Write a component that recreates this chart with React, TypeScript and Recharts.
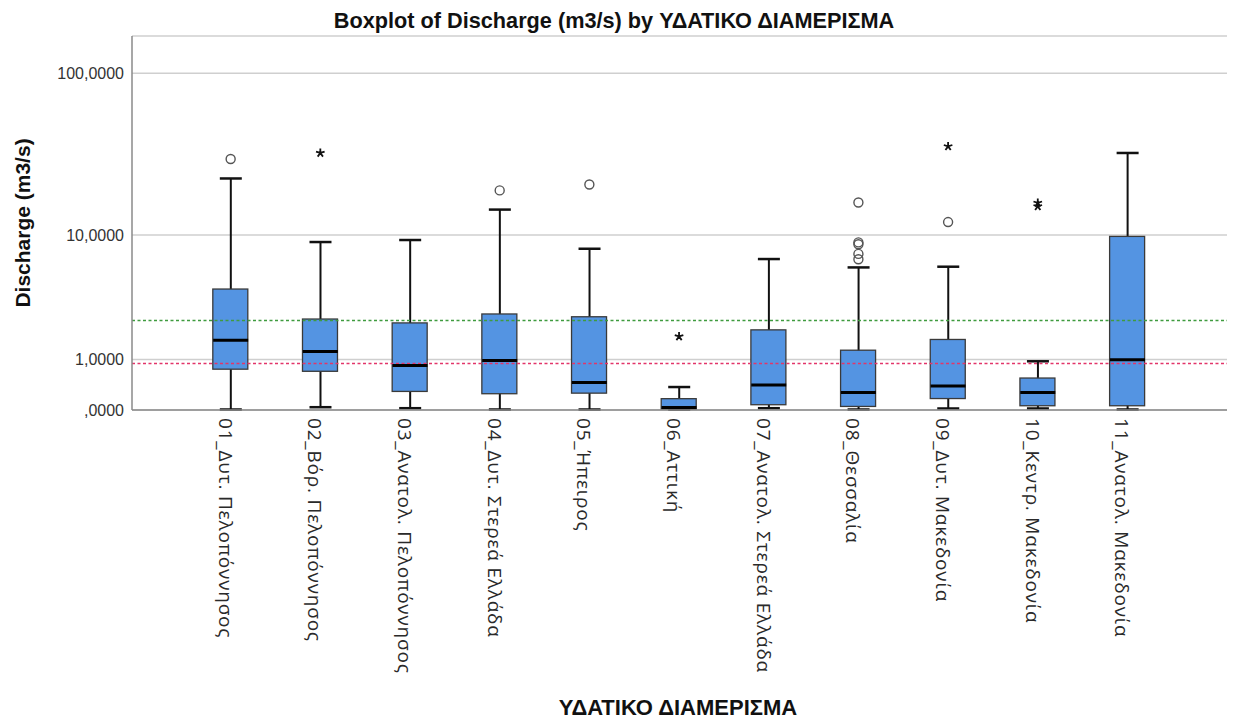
import React from "react";
import {
  ComposedChart,
  Bar,
  Scatter,
  XAxis,
  YAxis,
  CartesianGrid,
  ReferenceLine,
} from "recharts";

const regions = [
  "01_Δυτ. Πελοπόννησος",
  "02_Βόρ. Πελοπόννησος",
  "03_Ανατολ. Πελοπόννησος",
  "04_Δυτ. Στερεά Ελλάδα",
  "05_Ήπειρος",
  "06_Αττική",
  "07_Ανατολ. Στερεά Ελλάδα",
  "08_Θεσσαλία",
  "09_Δυτ. Μακεδονία",
  "10_Κεντρ. Μακεδονία",
  "11_Ανατολ. Μακεδονία",
];

// five-number summaries per region (m3/s)
const whiskerLow = [0, 0.032, 0.018, 0, 0, 0, 0.018, 0, 0.014, 0.014, 0];
const q1 = [0.75, 0.7, 0.29, 0.25, 0.26, 0.014, 0.075, 0.05, 0.17, 0.06, 0.06];
const median = [1.6, 1.23, 0.84, 0.97, 0.46, 0.036, 0.41, 0.27, 0.39, 0.27, 0.99];
const q3 = [4.25, 2.48, 2.3, 2.73, 2.59, 0.168, 2.0, 1.27, 1.63, 0.55, 9.8];
const whiskerHigh = [22.9, 9.0, 9.28, 14.6, 8.12, 0.37, 6.92, 6.06, 6.13, 0.95, 32.9];

// outliers (o) and extreme values (*), keyed by region index
const outlierRegion = [0, 3, 4, 7, 7, 7, 7, 7, 8];
const outlierValue = [30.2, 19.3, 21.0, 16.2, 8.95, 8.7, 7.5, 6.9, 12.15];
const extremeRegion = [1, 5, 8, 9, 9];
const extremeValue = [32.9, 1.74, 36.1, 16.1, 15.3];

// overall reference levels
const upperRef = 2.41;
const lowerRef = 0.89;

const yTicks = [0, 1, 10, 100];
const xTicks = regions.map((_, i) => i);

const rows = regions.map((name, i) => ({
  idx: i,
  name,
  lo: whiskerLow[i],
  q1: q1[i],
  med: median[i],
  q3: q3[i],
  hi: whiskerHigh[i],
}));
const outliers = outlierRegion.map((r, i) => ({ idx: r, value: outlierValue[i] }));
const extremes = extremeRegion.map((r, i) => ({ idx: r, value: extremeValue[i] }));

const ARIAL = "Arial, 'Liberation Sans', sans-serif";
const LABEL_FONT = "'Open Sans', 'Noto Sans', sans-serif";
const BOX_W = 35;
const CAP_W = 22;
const X_DOMAIN: [number, number] = [-1.1, 11.11];

const fmtTick = (v: number) => (v === 0 ? ",0000" : v.toFixed(4).replace(".", ","));

const WhiskerShape = (props: any) => {
  const { x, y, width, height } = props;
  const top = Math.min(y, y + height);
  const bottom = Math.max(y, y + height);
  const cx = x + width / 2;
  return (
    <g>
      <line x1={cx} x2={cx} y1={top} y2={bottom} stroke="#111" strokeWidth={2} />
      <line x1={x} x2={x + width} y1={top} y2={top} stroke="#111" strokeWidth={2.5} />
      <line x1={x} x2={x + width} y1={bottom - 0.5} y2={bottom - 0.5} stroke="#111" strokeWidth={2.5} />
    </g>
  );
};

const BoxShape = (props: any) => {
  const { x, y, width, height } = props;
  const top = Math.min(y, y + height);
  return (
    <rect
      x={x}
      y={top}
      width={width}
      height={Math.abs(height)}
      fill="#5494e2"
      stroke="#3a3a3a"
      strokeWidth={1.3}
    />
  );
};

const MedianShape = (props: any) => {
  const { cx, cy } = props;
  return (
    <line
      x1={cx - BOX_W / 2}
      x2={cx + BOX_W / 2}
      y1={cy}
      y2={cy}
      stroke="#000"
      strokeWidth={3}
    />
  );
};

const CircleShape = (props: any) => (
  <circle cx={props.cx} cy={props.cy} r={4.5} fill="none" stroke="#555" strokeWidth={1.4} />
);

const StarShape = (props: any) => {
  const { cx, cy } = props;
  const arms = [0, 1, 2, 3, 4].map((k) => {
    const a = ((-90 + 72 * k) * Math.PI) / 180;
    return `M${cx},${cy}L${cx + 4.5 * Math.cos(a)},${cy + 4.5 * Math.sin(a)}`;
  });
  return <path d={arms.join("")} stroke="#111" strokeWidth={1.8} fill="none" />;
};

const RegionTick = (props: any) => {
  const { x, y, payload } = props;
  return (
    <text
      transform={`translate(${x - 12},${y}) rotate(90)`}
      textAnchor="start"
      fontFamily={LABEL_FONT}
      fontWeight={400}
      fontSize={19}
      letterSpacing={0.8}
      fill="#2a2a2a"
    >
      {regions[payload.value]}
    </text>
  );
};

const yTitle = () => (
  <text
    x={22}
    y={223}
    transform="rotate(-90, 22, 223)"
    textAnchor="middle"
    dominantBaseline="central"
    fontFamily={ARIAL}
    fontWeight="bold"
    fontSize={21}
    fill="#111"
  >
    Discharge (m3/s)
  </text>
);

const xTitle = () => (
  <text
    x={678}
    y={707}
    textAnchor="middle"
    dominantBaseline="central"
    fontFamily={ARIAL}
    fontWeight="bold"
    fontSize={22}
    fill="#111"
  >
    ΥΔΑΤΙΚΟ ΔΙΑΜΕΡΙΣΜΑ
  </text>
);

export default function App() {
  return (
    <div style={{ position: "absolute", left: 0, top: 0, background: "#fff" }}>
      <ComposedChart
        width={1237}
        height={720}
        data={rows}
        margin={{ top: 36, right: 10, bottom: 0, left: 0 }}
      >
        <text
          x={614}
          y={20}
          textAnchor="middle"
          dominantBaseline="central"
          fontFamily={ARIAL}
          fontWeight="bold"
          fontSize={21.7}
          fill="#111"
        >
          Boxplot of Discharge (m3/s) by ΥΔΑΤΙΚΟ ΔΙΑΜΕΡΙΣΜΑ
        </text>
        <CartesianGrid horizontal vertical={false} stroke="#cfcfcf" strokeWidth={1.5} />
        <XAxis
          dataKey="idx"
          type="number"
          domain={X_DOMAIN}
          ticks={xTicks}
          interval={0}
          tick={<RegionTick />}
          tickLine={false}
          axisLine={{ stroke: "#8a8a8a", strokeWidth: 1.5 }}
          height={310}
          label={xTitle}
        />
        <XAxis xAxisId="w" dataKey="idx" type="number" domain={X_DOMAIN} hide />
        <YAxis
          type="number"
          scale="symlog"
          domain={[0, 167.5]}
          ticks={yTicks}
          interval={0}
          tickFormatter={fmtTick}
          tick={{ fontFamily: ARIAL, fontSize: 16, fill: "#333" }}
          tickLine={false}
          axisLine={{ stroke: "#8a8a8a", strokeWidth: 1.5 }}
          width={132}
          label={yTitle}
        />
        <Bar
          xAxisId="w"
          dataKey={(d: any) => [d.lo, d.hi]}
          barSize={CAP_W}
          shape={WhiskerShape}
          isAnimationActive={false}
        />
        <Bar
          dataKey={(d: any) => [d.q1, d.q3]}
          barSize={BOX_W}
          shape={BoxShape}
          isAnimationActive={false}
        />
        <Scatter dataKey="med" shape={MedianShape} isAnimationActive={false} />
        <Scatter data={outliers} dataKey="value" shape={CircleShape} isAnimationActive={false} />
        <Scatter data={extremes} dataKey="value" shape={StarShape} isAnimationActive={false} />
        <ReferenceLine y={upperRef} stroke="#3f9b3f" strokeWidth={1.4} strokeDasharray="3 2.5" />
        <ReferenceLine y={lowerRef} stroke="#e2356a" strokeWidth={1.4} strokeDasharray="3 2.5" />
      </ComposedChart>
    </div>
  );
}
